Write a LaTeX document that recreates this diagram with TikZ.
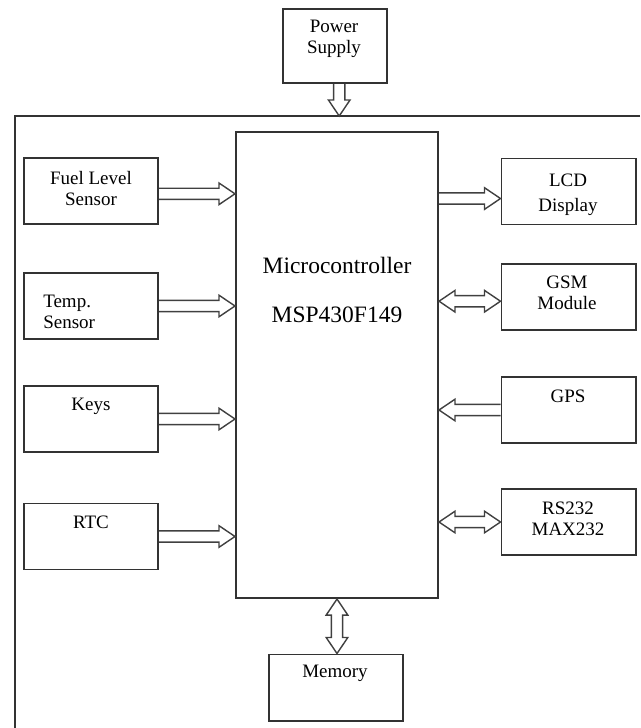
\documentclass[tikz,border=0pt]{standalone}
\usepackage{fontspec}
\setmainfont{Liberation Serif}
\usetikzlibrary{calc}

\newcommand{\fahead}{0.4cm}
\newcommand{\fashaft}{0.14cm}
\newcommand{\fahalf}{0.27cm}

% hollow block arrow, one head
\newcommand{\fatarrow}[2]{%
  \coordinate (fa-s) at (#1);
  \coordinate (fa-t) at (#2);
  \coordinate (fa-n) at ($(fa-t)!\fahead!(fa-s)$);
  \draw[fat] ($(fa-s)!\fashaft!90:(fa-t)$) -- ($(fa-n)!\fashaft!90:(fa-t)$)
    -- ($(fa-n)!\fahalf!90:(fa-t)$) -- (fa-t) -- ($(fa-n)!\fahalf!-90:(fa-t)$)
    -- ($(fa-n)!\fashaft!-90:(fa-t)$) -- ($(fa-s)!\fashaft!-90:(fa-t)$);
}
% hollow block arrow, two heads
\newcommand{\fatdarrow}[2]{%
  \coordinate (fa-s) at (#1);
  \coordinate (fa-t) at (#2);
  \coordinate (fa-m) at ($(fa-s)!\fahead!(fa-t)$);
  \coordinate (fa-n) at ($(fa-t)!\fahead!(fa-s)$);
  \draw[fat] (fa-s) -- ($(fa-m)!\fahalf!90:(fa-t)$) -- ($(fa-m)!\fashaft!90:(fa-t)$)
    -- ($(fa-n)!\fashaft!90:(fa-t)$) -- ($(fa-n)!\fahalf!90:(fa-t)$) -- (fa-t)
    -- ($(fa-n)!\fahalf!-90:(fa-t)$) -- ($(fa-n)!\fashaft!-90:(fa-t)$)
    -- ($(fa-m)!\fashaft!-90:(fa-t)$) -- ($(fa-m)!\fahalf!-90:(fa-t)$) -- cycle;
}

\begin{document}
\begin{tikzpicture}[x=0.025cm, y=-0.025cm]
    % Styles for boxes, texts and arrows
    \tikzset{
      box/.style={rectangle, draw=black!80, line width=1.4pt, minimum width=3.35cm, minimum height=1.65cm, inner sep=0pt},
      txt/.style={align=center, inner sep=0pt, font=\fontsize{13.5}{15}\selectfont},
      bigtxt/.style={inner sep=0pt, font=\fontsize{16.7}{19}\selectfont},
      fat/.style={draw=black!75, line width=1pt, line join=miter},
      frame/.style={draw=black!80, line width=1.4pt}
    }
    \useasboundingbox (0,0) rectangle (640,728);

    % Outer frame
    \coordinate (ftop) at (15,116);
    \draw[frame] (640,116) -- (ftop) -- (15,728);

    % Boxes with explicit coordinates
    \node[box, minimum width=2.6cm, minimum height=1.85cm] (power) at (335,46) {};
    \node[box, minimum width=5.05cm, minimum height=11.65cm] (mcu) at (337,365) {};
    \node[box] (fuel) at (91,191) {};
    \node[box] (temp) at (91,306) {};
    \node[box] (keys) at (91,419) {};
    \node[box] (rtc) at (91,536.5) {};
    \node[box] (lcd) at (568.5,191.5) {};
    \node[box] (gsm) at (568.5,297) {};
    \node[box] (gps) at (568.5,410) {};
    \node[box] (rs) at (568.5,522) {};
    \node[box] (mem) at (336,687.5) {};

    % Texts
    \node[txt] (powertxt) at (334,39) {Power\\Supply};
    \node[bigtxt] (mcutxt1) at (337,265) {Microcontroller};
    \node[bigtxt] (mcutxt2) at (337,315) {MSP430F149};
    \node[txt] (fueltxt) at (91,188.5) {Fuel Level\\Sensor};
    \node[txt, align=left, anchor=west] (temptxt) at (43,312) {Temp.\\Sensor};
    \node[txt] (keystxt) at (91,406) {Keys};
    \node[txt] (rtctxt) at (91,522) {RTC};
    \node[txt] (lcdtxt) at (568,195) {LCD\\[3pt]Display};
    \node[txt] (gsmtxt) at (567,293) {GSM\\Module};
    \node[txt] (gpstxt) at (568,396) {GPS};
    \node[txt] (rstxt) at (568,518.5) {RS232\\MAX232};
    \node[txt] (memtxt) at (335,673) {Memory};

    % Arrows
    \coordinate (pwrout) at ([xshift=3pt]power.south);
    \fatarrow{pwrout}{pwrout |- ftop}
    \coordinate (fuelout) at ([yshift=-2pt]fuel.east);
    \fatarrow{fuelout}{fuelout -| mcu.west}
    \fatarrow{temp.east}{temp.east -| mcu.west}
    \fatarrow{keys.east}{keys.east -| mcu.west}
    \fatarrow{rtc.east}{rtc.east -| mcu.west}
    \coordinate (lcdin) at ([yshift=-5pt]lcd.west);
    \fatarrow{lcdin -| mcu.east}{lcdin}
    \coordinate (gsmin) at ([yshift=-3pt]gsm.west);
    \fatdarrow{gsmin -| mcu.east}{gsmin}
    \fatarrow{gps.west}{gps.west -| mcu.east}
    \fatdarrow{rs.west -| mcu.east}{rs.west}
    \fatdarrow{mcu.south}{mcu.south |- mem.north}

\end{tikzpicture}
\end{document}
